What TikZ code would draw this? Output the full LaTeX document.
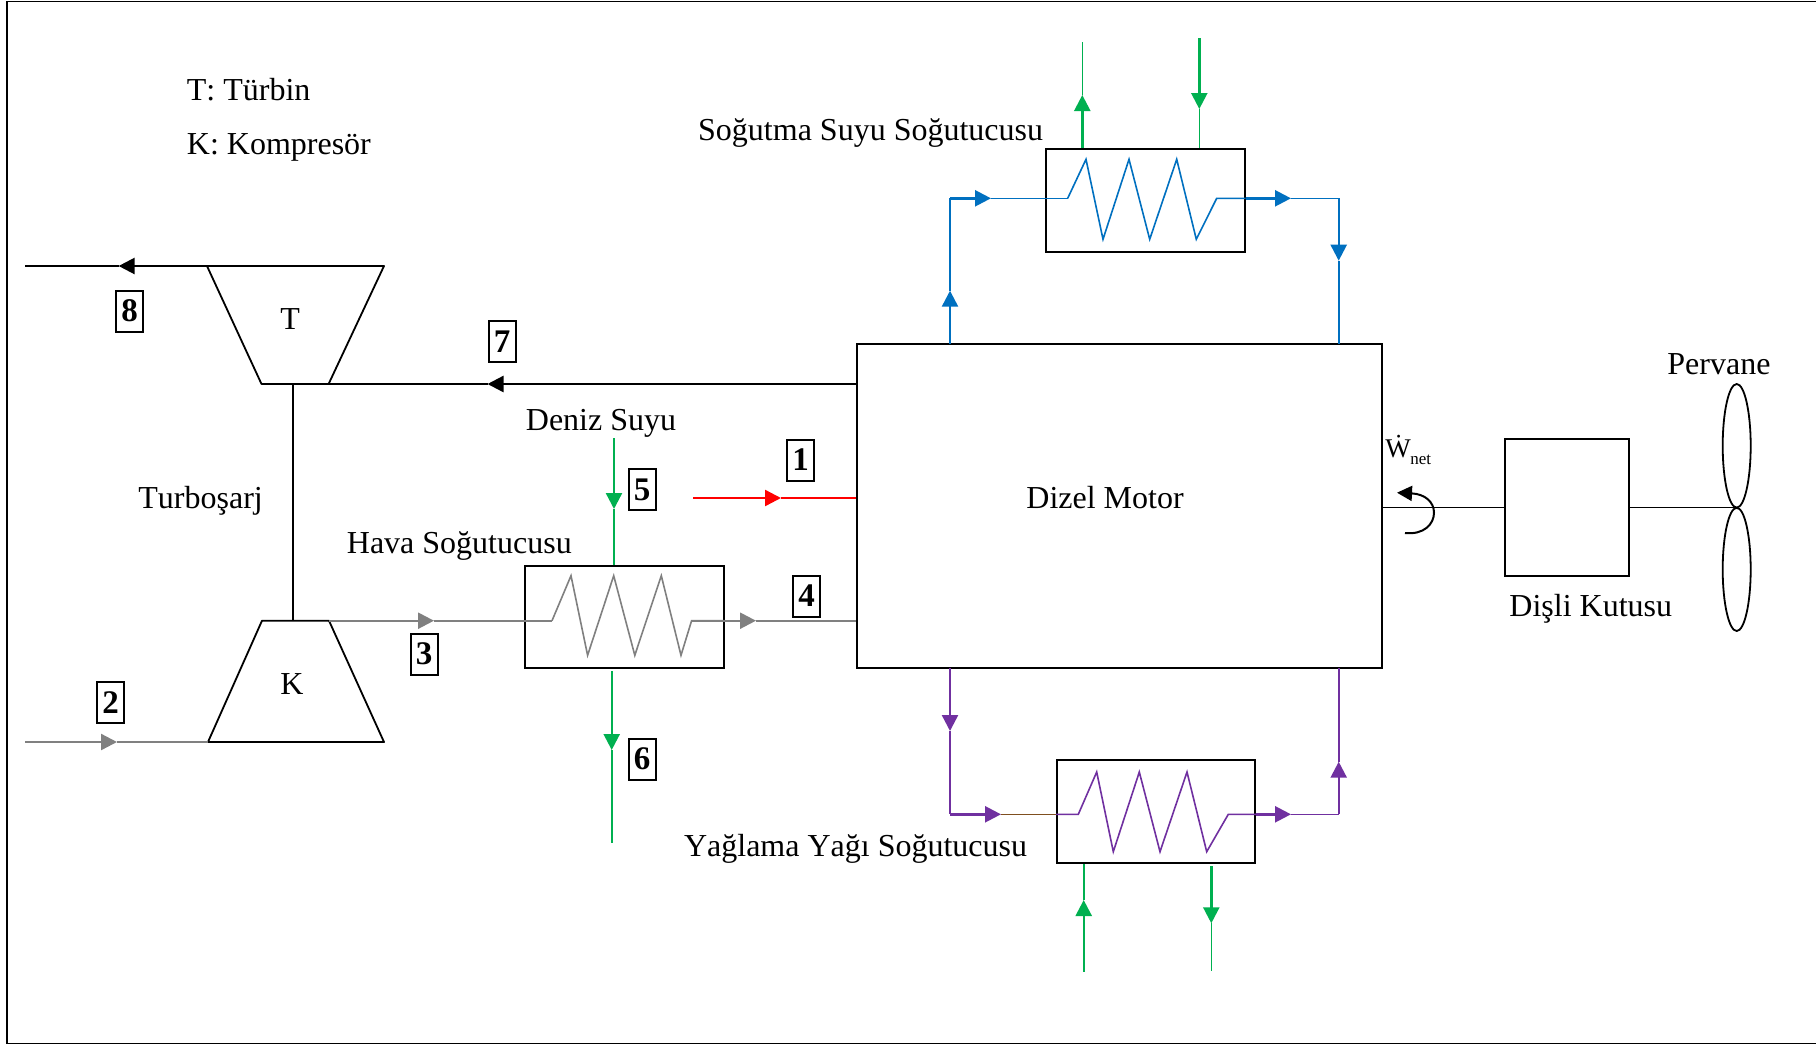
\documentclass[tikz,border=0pt]{standalone}
\usepackage{fontspec}
\setmainfont[Kerning=Off]{Liberation Serif}
\usetikzlibrary{arrows.meta,shapes.geometric}
\definecolor{cgreen}{HTML}{00B050}
\definecolor{cblue}{HTML}{0070C0}
\definecolor{cpurple}{HTML}{7030A0}
\definecolor{cgray}{HTML}{808080}
\definecolor{cbrown}{HTML}{7F4F1F}
\newcommand{\nb}[1]{\raisebox{-.5pt}{#1}}
\tikzset{
  lbl/.style={font=\fontsize{16}{18}\selectfont,inner sep=0pt,anchor=base west},
  numbox/.style={draw=black,line width=1pt,fill=white,minimum width=13.5pt,minimum height=20.5pt,inner sep=0pt,font=\fontsize{16.5}{18}\selectfont\bfseries},
  unit/.style={draw=black,line width=1pt,inner sep=0pt},
  thin line/.style={line width=.8pt},
  thick line/.style={line width=1.2pt},
  tip/.style={-{Triangle[length=8pt,width=8pt]}},
  coil/.style={line width=.8pt,line join=miter},
  turbo/.style={draw=black,line width=.9pt,line join=round},
  blade/.style={draw=black,line width=.9pt,ellipse,inner sep=0pt,minimum width=14pt}
}
\begin{document}
\begin{tikzpicture}[x=.5pt,y=-.5pt]
\useasboundingbox (0,0) rectangle (1816,1045);
\fill[white] (0,0) rectangle (1816,1045);
\draw[line width=.9pt,black] (1816,1.5) -- (7,1.5) -- (7,1043.5) -- (1816,1043.5);

% units
\node[unit,minimum width=262.2pt,minimum height=161.7pt] (engine) at (1119.6,506) {};
\node[unit,minimum width=62pt,minimum height=68.2pt] (gear) at (1567,507.5) {};
\node[unit,minimum width=99.2pt,minimum height=51pt] (air) at (624.3,616.7) {};
\node[unit,minimum width=99.2pt,minimum height=51.5pt] (sw) at (1145.5,200.2) {};
\node[unit,minimum width=99.2pt,minimum height=51.7pt] (oil) at (1156.2,811.7) {};
\coordinate (turbTL) at (207,266);
\coordinate (turbTR) at (384,266);
\coordinate (turbBR) at (328.6,384);
\coordinate (turbBL) at (261.5,384);
\coordinate (compTL) at (262,620.7);
\coordinate (compTR) at (329,620.7);
\coordinate (compBR) at (384,742);
\coordinate (compBL) at (208,742);
\draw[turbo] (turbTL) -- (turbTR) -- (turbBR) -- (turbBL) -- cycle;
\draw[turbo] (compTL) -- (compTR) -- (compBR) -- (compBL) -- cycle;
\node[blade,minimum height=61.8pt] (bladeA) at (1736.7,445.8) {};
\node[blade,minimum height=61.6pt] (bladeB) at (1736.7,569.4) {};

% free ends and arrow tips
\coordinate (t8end) at (25,266);
\coordinate (t8tip) at (118.6,266);
\coordinate (t7tip) at (487.5,384);
\coordinate (t2start) at (25,742);
\coordinate (t2tip) at (117,742);
\coordinate (t3tip) at (434,620.7);
\coordinate (t4tip) at (756,620.7);
\coordinate (t1start) at (693,498);
\coordinate (t1tip) at (781,498);
\coordinate (t5start) at (614,438);
\coordinate (t5tip) at (614,509);
\coordinate (t6start) at (611.7,671);
\coordinate (t6tip) at (611.7,750);
\coordinate (t6end) at (611.7,843);
\coordinate (shaftT) at (293,384);
\coordinate (shaftK) at (293,620.7);

% turbocharger
\draw[line width=.9pt] (shaftT) -- (shaftK);
\draw[thick line,black,tip] (engine.west |- t7tip) -- (t7tip);
\draw[line width=.9pt] (t7tip) -- (turbBR);
\draw[thick line,black,tip] (turbTL) -- (t8tip);
\draw[thin line,black] (t8tip) -- (t8end);

% air path
\draw[thick line,cgray,tip] (t2start) -- (t2tip);
\draw[thin line,cgray] (t2tip) -- (compBL);
\draw[thick line,cgray,tip] (compTR) -- (t3tip);
\draw[thin line,cgray] (t3tip) -- (air.west |- t3tip) -- (552,620.7);
\draw[coil,cgray] (552,620.7) -- (571,575.7) -- (587.6,655.3) -- (613.7,575.7) -- (634.8,655.3) -- (661.3,575.7) -- (681,655.3) -- (691.6,620.7) -- (air.east |- t4tip);
\draw[thick line,cgray,tip] (691.6,620.7) -- (t4tip);
\draw[thin line,cgray] (t4tip) -- (engine.west |- t4tip);

% fuel
\draw[thick line,red,tip] (t1start) -- (t1tip);
\draw[thin line,red] (t1tip) -- (engine.west |- t1tip);

% sea water, air cooler
\draw[thick line,cgreen,tip] (t5start) -- (t5tip);
\draw[thin line,cgreen] (t5tip) -- (air.north -| t5tip);
\draw[thick line,cgreen,tip] (t6start) -- (t6tip);
\draw[thin line,cgreen] (t6tip) -- (t6end);

% cooling water loop
\coordinate (bl1) at (950,344.3);
\coordinate (bltip1) at (950,290.7);
\coordinate (blc1) at (950,198.3);
\coordinate (bltip2) at (991,198.3);
\coordinate (blo) at (1216.7,198.3);
\coordinate (bltip3) at (1291,198.3);
\coordinate (blc2) at (1338.7,198.3);
\coordinate (bltip4) at (1338.7,260.7);
\coordinate (bl2) at (1338.7,344.3);
\draw[thick line,cblue,tip] (bl1) -- (bltip1);
\draw[thin line,cblue] (bltip1) -- (blc1);
\draw[thick line,cblue,tip] (blc1) -- (bltip2);
\draw[thin line,cblue] (bltip2) -- (1067.7,198.3);
\draw[coil,cblue] (1067.7,198.3) -- (1086,159.3) -- (1103,239.3) -- (1129,159.3) -- (1149.7,239.3) -- (1176.7,159.3) -- (1196.3,239.3) -- (blo) -- (sw.east |- blo);
\draw[thick line,cblue,tip] (sw.east |- blo) -- (bltip3);
\draw[thin line,cblue] (bltip3) -- (blc2);
\draw[thick line,cblue,tip] (blc2) -- (bltip4);
\draw[thin line,cblue] (bltip4) -- (bl2);
% sea water, cooling water cooler
\coordinate (g1a) at (1082.3,42.3);
\coordinate (g1tip) at (1082.3,95);
\coordinate (g2a) at (1199.3,38.3);
\coordinate (g2tip) at (1199.3,109);
\draw[thick line,cgreen,tip] (sw.north -| g1tip) -- (g1tip);
\draw[thin line,cgreen] (g1tip) -- (g1a);
\draw[thick line,cgreen,tip] (g2a) -- (g2tip);
\draw[thin line,cgreen] (g2tip) -- (sw.north -| g2tip);

% lube oil loop
\coordinate (pl1) at (950,667.7);
\coordinate (pltip1) at (950,731);
\coordinate (plc1) at (950,814.3);
\coordinate (pltip2) at (1001,814.3);
\coordinate (plo) at (1228.3,814.3);
\coordinate (pltip3) at (1291,814.3);
\coordinate (plc2) at (1338.7,814.3);
\coordinate (pltip4) at (1338.7,761.7);
\coordinate (pl2) at (1338.7,667.7);
\draw[thick line,cpurple,tip] (pl1) -- (pltip1);
\draw[thin line,cpurple] (pltip1) -- (plc1);
\draw[thick line,cpurple,tip] (plc1) -- (pltip2);
\draw[thin line,cbrown] (pltip2) -- (oil.west |- pltip2);
\draw[coil,cpurple] (oil.west |- pltip2) -- (1078.3,814.3) -- (1096.7,772) -- (1113.3,851.7) -- (1139.3,772) -- (1160,851.7) -- (1187,772) -- (1206.7,851.7) -- (plo) -- (oil.east |- plo);
\draw[thick line,cpurple,tip] (oil.east |- plo) -- (pltip3);
\draw[thin line,cpurple] (pltip3) -- (plc2);
\draw[thick line,cpurple,tip] (plc2) -- (pltip4);
\draw[thin line,cpurple] (pltip4) -- (pl2);
% sea water, oil cooler
\coordinate (g3a) at (1083.7,971.7);
\coordinate (g3tip) at (1083.7,900);
\coordinate (g4a) at (1211.3,866);
\coordinate (g4tip) at (1211.3,923.3);
\coordinate (g4b) at (1211.3,971);
\draw[thick line,cgreen,tip] (g3a) -- (g3tip);
\draw[thin line,cgreen] (g3tip) -- (oil.south -| g3tip);
\draw[thick line,cgreen,tip] (g4a) -- (g4tip);
\draw[thin line,cgreen] (g4tip) -- (g4b);

% shaft
\draw[line width=.9pt] (engine.east |- gear.west) -- (gear.west);
\draw[line width=.9pt] (gear.east) -- (gear.east -| bladeA.south);
\coordinate (rotS) at (1405,533);
\coordinate (rotT) at (1397,492.7);
\draw[line width=1pt,-{Triangle[length=7.5pt,width=7.5pt]}] (rotS) .. controls (1424,535) and (1434,524) .. (1434,512.7) .. controls (1434,502) and (1425,494) .. (rotT);

% number boxes
\node[numbox] (n1) at (800.5,460) {\nb{1}};
\node[numbox] (n2) at (110.5,702.5) {\nb{2}};
\node[numbox] (n3) at (424.2,654) {\nb{3}};
\node[numbox] (n4) at (806.5,596) {\nb{4}};
\node[numbox] (n5) at (642.2,489.5) {\nb{5}};
\node[numbox] (n6) at (642.2,759) {\nb{6}};
\node[numbox] (n7) at (502,341.5) {\nb{7}};
\node[numbox] (n8) at (129.7,311) {\nb{8}};

% labels
\node[lbl] (lt) at (186.5,100) {T: Türbin};
\node[lbl] (lk) at (186.5,154) {K: Kompresör};
\node[lbl,anchor=base east] (lsw) at (1043.5,140.5) {Soğutma Suyu Soğutucusu};
\node[lbl] (lts) at (138,508) {Turboşarj};
\node[lbl] (lair) at (346.5,553.5) {Hava Soğutucusu};
\node[lbl] (lsea) at (525.5,430) {Deniz Suyu};
\node[lbl] (leng) at (1026,508) {Dizel Motor};
\node[lbl] (lgear) at (1509,616) {Dişli Kutusu};
\node[lbl] (lprop) at (1667,374) {Pervane};
\node[lbl,anchor=base east] (loil) at (1027.5,856.7) {Yağlama Yağı Soğutucusu};
\node[lbl] (lT) at (280,329) {T};
\node[lbl] (lK) at (280,694) {K};
\node[inner sep=0pt,anchor=base west,font=\fontsize{13.5}{15}\selectfont] (lw) at (1385,457) {Ẇ};
\node[inner sep=0pt,anchor=base west,font=\fontsize{8.5}{10}\selectfont] (lnet) at (1410,464) {net};
\end{tikzpicture}
\end{document}
